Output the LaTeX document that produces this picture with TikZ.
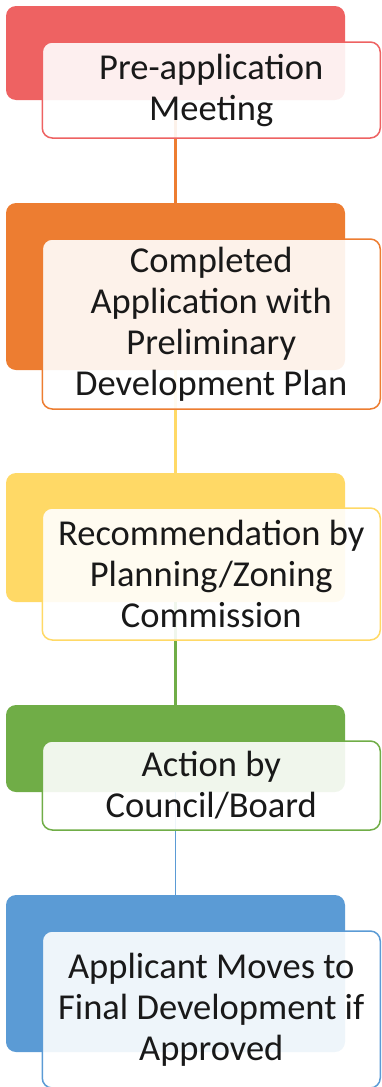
\documentclass[tikz,border=0pt]{standalone}
\usepackage{fontspec}
\setmainfont{Carlito}
\usepackage{xcolor}
\usepackage{tikz}
\definecolor{stepred}{HTML}{EE6262}
\definecolor{steporange}{HTML}{ED7D31}
\definecolor{stepyellow}{HTML}{FFD966}
\definecolor{stepgreen}{HTML}{70AD47}
\definecolor{stepblue}{HTML}{5B9BD5}

\begin{document}
\begin{tikzpicture}[x=1pt, y=-1pt,
			every node/.style={font=\fontsize{36.5}{41}\selectfont, color=black!90},
			stage/.style={fill=#1, rounded corners=10pt, minimum width=339pt, inner sep=0pt},
			card/.style={draw=#1, fill=white, fill opacity=0.9, text opacity=1, line width=1.5pt, rounded corners=10pt, minimum width=338pt, inner sep=0pt, align=center},
			joint/.style={draw=#1, line width=2.2pt}
		]
		\useasboundingbox (0,0) rectangle (381,1087);

		\node[stage=stepred, minimum height=94pt] (s1) at (175.5,53) {};
		\node[stage=steporange, minimum height=167pt] (s2) at (175.5,286.5) {};
		\node[stage=stepyellow, minimum height=129pt] (s3) at (175.5,537.5) {};
		\node[stage=stepgreen, minimum height=87pt] (s4) at (175.5,748.5) {};
		\node[stage=stepblue, minimum height=157pt] (s5) at (175.5,973.5) {};

		\draw[joint=steporange] (s1.south) -- (s2.north);
		\draw[joint=stepyellow] (s2.south) -- (s3.north);
		\draw[joint=stepgreen] (s3.south) -- (s4.north);
		\draw[joint=stepblue, line width=1.5pt] (s4.south) -- (s5.north);

		\node[card=stepred, minimum height=96pt] (c1) at (211.25,90) {Pre-application\\Meeting};
		\node[card=steporange, minimum height=170pt] (c2) at (211.25,324) {Completed\\Application with\\Preliminary\\Development Plan};
		\node[card=stepyellow, minimum height=132pt] (c3) at (211.25,574) {Recommendation by\\Planning/Zoning\\Commission};
		\node[card=stepgreen, minimum height=89pt] (c4) at (211.25,785.5) {Action by\\Council/Board};
		\node[card=stepblue, minimum height=157pt] (c5) at (211.25,1009.5) {Applicant Moves to\\Final Development if\\Approved};
	\end{tikzpicture}
\end{document}
